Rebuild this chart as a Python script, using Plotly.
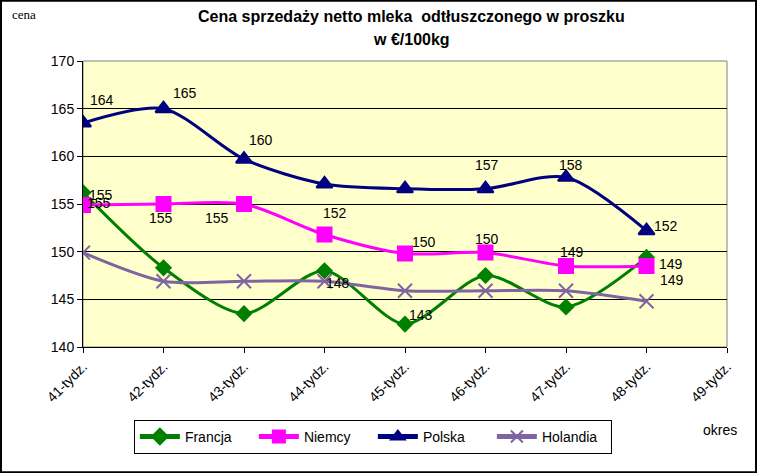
import plotly.graph_objects as go

categories = ["41-tydz.", "42-tydz.", "43-tydz.", "44-tydz.", "45-tydz.",
              "46-tydz.", "47-tydz.", "48-tydz.", "49-tydz."]

francja = [156.2, 148.3, 143.5, 148.0, 142.4, 147.5, 144.2, 149.4]
niemcy = [154.9, 155.0, 155.0, 151.8, 149.8, 149.9, 148.5, 148.5]
polska = [163.5, 165.0, 159.7, 157.1, 156.6, 156.6, 157.8, 152.2]
holandia = [149.9, 146.9, 146.9, 146.9, 145.9, 145.9, 145.9, 144.8]

francja_labels = ["155", None, None, "148", "143", None, None, "149"]
niemcy_labels = ["155", "155", "155", "152", "150", "150", "149", "149"]
polska_labels = ["164", "165", "160", None, None, "157", "158", "152"]
holandia_labels = [None] * 8

y_ticks = [140, 145, 150, 155, 160, 165, 170]

# styling: label pixel offsets (dx, dy with dy up positive)
label_offsets = {
    "Francja": [(18, -2), None, None, (13, -12), (16, 9), None, None, (25, -23)],
    "Niemcy": [(16, 2), (-3, -14), (-27, -14), (10, 22), (19, 12), (1, 14), (6, 14), (24, 2)],
    "Polska": [(19, 23), (21, 16), (17, 19), None, None, (1, 24), (5, 12), (19, 5)],
    "Holandia": [None] * 8,
}

FONT = "Arial, Liberation Sans"

series = [
    ("Francja", francja, francja_labels, "#008000", "diamond", 11),
    ("Niemcy", niemcy, niemcy_labels, "#FF00FF", "square", 14),
    ("Polska", polska, polska_labels, "#000080", "triangle-up", 14),
    ("Holandia", holandia, holandia_labels, "#8064A2", "x-thin-open", 14),
]

fig = go.Figure()
annotations = []
for name, vals, labels, color, sym, msize in series:
    xs = categories[:len(vals)]
    fig.add_trace(go.Scatter(
        x=xs, y=vals, name=name, mode="lines+markers",
        line=dict(color=color, width=3, shape="spline", smoothing=0.8),
        marker=dict(symbol=sym, size=msize, color=color,
                    line=dict(color=color, width=2)),
    ))
    for i, (xv, yv, lab) in enumerate(zip(xs, vals, labels)):
        off = label_offsets[name][i]
        if lab is None or off is None:
            continue
        annotations.append(dict(
            x=xv, y=yv, xref="x", yref="y", text=lab, showarrow=False,
            xshift=off[0], yshift=off[1],
            font=dict(family=FONT, size=14, color="black"),
        ))

annotations += [
    dict(text="cena", xref="paper", yref="paper", x=-0.114, y=1.163,
         xanchor="left", yanchor="middle", showarrow=False,
         font=dict(family="Liberation Serif", size=13, color="black")),
    dict(text="okres", xref="paper", yref="paper", x=0.989, y=-0.29,
         xanchor="center", yanchor="middle", showarrow=False,
         font=dict(family=FONT, size=14, color="black")),
    dict(text="<b>Cena sprzedaży netto mleka  odtłuszczonego w proszku</b>",
         xref="paper", yref="paper", x=0.51, y=1.155, xanchor="center", yanchor="middle",
         showarrow=False, font=dict(family=FONT, size=16, color="black")),
    dict(text="<b>w €/100kg</b>",
         xref="paper", yref="paper", x=0.51, y=1.075, xanchor="center", yanchor="middle",
         showarrow=False, font=dict(family=FONT, size=16, color="black")),
]

fig.update_layout(
    width=757, height=473,
    margin=dict(l=83, r=30, t=61, b=126),
    paper_bgcolor="white",
    plot_bgcolor="#FFFFCC",
    showlegend=True,
    legend=dict(
        orientation="h", x=0.079, y=-0.255, xanchor="left", yanchor="top",
        bordercolor="black", borderwidth=1, bgcolor="white",
        font=dict(family=FONT, size=14, color="black"),
        entrywidth=64, itemwidth=40, itemsizing="constant",
    ),
    annotations=annotations,
    shapes=[
        dict(type="rect", xref="paper", yref="paper",
             x0=-83 / 644 + 0.0015, x1=1 + 30 / 644 - 0.0015,
             y0=-126 / 286 + 0.0025, y1=1 + 61 / 286 - 0.0025,
             line=dict(color="black", width=2), layer="below"),
        dict(type="rect", xref="paper", yref="paper", x0=0, x1=1, y0=0, y1=1,
             line=dict(color="#808080", width=1), layer="below"),
    ],
)

fig.update_xaxes(
    type="category", categoryorder="array", categoryarray=categories,
    range=[0, len(categories) - 1], tickangle=-45,
    showgrid=False, showline=True, linecolor="black", linewidth=1,
    ticks="outside", ticklen=5, tickcolor="black",
    tickfont=dict(family=FONT, size=14, color="black"),
    zeroline=False,
)
fig.update_yaxes(
    range=[140, 170], tickvals=y_ticks,
    showgrid=True, gridcolor="black", gridwidth=1,
    showline=True, linecolor="black", linewidth=1,
    ticks="outside", ticklen=5, tickcolor="black",
    tickfont=dict(family=FONT, size=14, color="black"),
    zeroline=False,
)

fig.write_html("out.html", config={"displayModeBar": False},
               post_script="document.body.style.margin='0';")
